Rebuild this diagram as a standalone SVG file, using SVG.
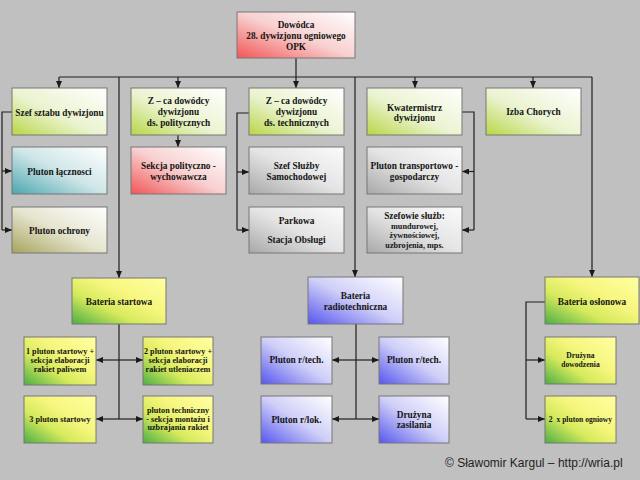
<svg xmlns="http://www.w3.org/2000/svg" width="640" height="480" viewBox="0 0 640 480">
<defs>
<linearGradient id="gGreen" x1="0" y1="1" x2="1" y2="0">
<stop offset="0" stop-color="#b8d646"/><stop offset="0.45" stop-color="#eaf3cf"/><stop offset="1" stop-color="#ffffff"/>
</linearGradient>
<linearGradient id="gRed" x1="0" y1="1" x2="1" y2="0">
<stop offset="0" stop-color="#f25555"/><stop offset="0.5" stop-color="#f8d0d0"/><stop offset="1" stop-color="#ffffff"/>
</linearGradient>
<linearGradient id="gTeal" x1="0" y1="1" x2="1" y2="0">
<stop offset="0" stop-color="#4aa6ae"/><stop offset="0.5" stop-color="#cfe6e8"/><stop offset="1" stop-color="#ffffff"/>
</linearGradient>
<linearGradient id="gOlive" x1="0" y1="1" x2="1" y2="0">
<stop offset="0" stop-color="#a6a45c"/><stop offset="0.5" stop-color="#e6e5d0"/><stop offset="1" stop-color="#ffffff"/>
</linearGradient>
<linearGradient id="gGray" x1="0" y1="1" x2="1" y2="0">
<stop offset="0" stop-color="#a8a8a8"/><stop offset="0.5" stop-color="#e4e4e4"/><stop offset="1" stop-color="#fbfbfb"/>
</linearGradient>
<linearGradient id="gYellow" x1="0" y1="1" x2="1" y2="0">
<stop offset="0" stop-color="#4cae44"/><stop offset="0.35" stop-color="#d6ea5c"/><stop offset="0.6" stop-color="#f6f67e"/><stop offset="1" stop-color="#ffffa2"/>
</linearGradient>
<linearGradient id="gBlue" x1="0" y1="1" x2="1" y2="0">
<stop offset="0" stop-color="#5656ee"/><stop offset="0.5" stop-color="#cfcff8"/><stop offset="1" stop-color="#ffffff"/>
</linearGradient>
<marker id="arr" markerUnits="userSpaceOnUse" markerWidth="8" markerHeight="6" refX="7" refY="3" orient="auto">
<path d="M0,0 L7,3 L0,6 z" fill="#1a1a1a"/>
</marker>
<style>
rect{stroke:#767676;stroke-width:1}
text{font-family:"Liberation Serif","Times New Roman",serif;font-weight:bold;fill:#151515;text-anchor:middle}
.t{font-size:9.3px}
.s{font-size:8.2px}
.x{font-size:7.6px}
#connectors line,#connectors polyline{stroke:#1e1e1e;stroke-width:1.2;fill:none}
.copy{font-family:"Liberation Sans",Arial,sans-serif;font-weight:normal;font-size:12px;fill:#1e1e1e;text-anchor:start}
</style>
</defs>
<rect x="0" y="0" width="640" height="480" fill="#c0c0c0" style="stroke:none"/>

<g id="connectors">
<line x1="296" y1="58" x2="296" y2="77"/>
<line x1="59" y1="77" x2="592" y2="77"/>
<line x1="59" y1="77" x2="59" y2="88" marker-end="url(#arr)"/>
<line x1="178" y1="77" x2="178" y2="88" marker-end="url(#arr)"/>
<line x1="296" y1="77" x2="296" y2="88" marker-end="url(#arr)"/>
<line x1="415" y1="77" x2="415" y2="88" marker-end="url(#arr)"/>
<line x1="533" y1="77" x2="533" y2="88" marker-end="url(#arr)"/>
<line x1="119" y1="77" x2="119" y2="278" marker-end="url(#arr)"/>
<line x1="355" y1="77" x2="355" y2="277" marker-end="url(#arr)"/>
<line x1="592" y1="77" x2="592" y2="277" marker-end="url(#arr)"/>
<polyline points="12,112 2,112 2,230"/>
<line x1="2" y1="171" x2="12" y2="171" marker-end="url(#arr)"/>
<line x1="2" y1="230" x2="12" y2="230" marker-end="url(#arr)"/>
<line x1="178" y1="135" x2="178" y2="147" marker-end="url(#arr)"/>
<polyline points="249,113 237,113 237,230"/>
<line x1="237" y1="172" x2="249" y2="172" marker-end="url(#arr)"/>
<line x1="237" y1="230" x2="249" y2="230" marker-end="url(#arr)"/>
<polyline points="462,112 474,112 474,230"/>
<line x1="474" y1="171.5" x2="462" y2="171.5" marker-end="url(#arr)"/>
<line x1="474" y1="230" x2="462" y2="230" marker-end="url(#arr)"/>
<line x1="119" y1="324" x2="119" y2="419"/>
<line x1="119" y1="360" x2="96" y2="360" marker-end="url(#arr)"/>
<line x1="119" y1="360" x2="143" y2="360" marker-end="url(#arr)"/>
<line x1="119" y1="419" x2="96" y2="419" marker-end="url(#arr)"/>
<line x1="119" y1="419" x2="143" y2="419" marker-end="url(#arr)"/>
<line x1="356" y1="324" x2="356" y2="419"/>
<line x1="356" y1="360" x2="332" y2="360" marker-end="url(#arr)"/>
<line x1="356" y1="360" x2="379" y2="360" marker-end="url(#arr)"/>
<line x1="356" y1="419" x2="332" y2="419" marker-end="url(#arr)"/>
<line x1="356" y1="419" x2="379" y2="419" marker-end="url(#arr)"/>
<polyline points="545,302 526,302 526,419"/>
<line x1="526" y1="360" x2="545" y2="360" marker-end="url(#arr)"/>
<line x1="526" y1="419" x2="545" y2="419" marker-end="url(#arr)"/>
</g>

<g id="dowodca"><rect x="237" y="12" width="118" height="46" fill="url(#gRed)"/>
<text class="t" x="296" y="27.5">Dowódca</text><text class="t" x="296" y="38.5">28. dywizjonu ogniowego</text><text class="t" x="296" y="50">OPK</text></g>

<g id="szef-sztabu"><rect x="12" y="88" width="95" height="47" fill="url(#gGreen)"/>
<text class="t" x="59.5" y="115.5">Szef sztabu dywizjonu</text></g>
<g id="zca-polit"><rect x="131" y="88" width="95" height="47" fill="url(#gGreen)"/>
<text class="t" x="178.5" y="104">Z – ca dowódcy</text><text class="t" x="178.5" y="114.5">dywizjonu</text><text class="t" x="178.5" y="125.5">ds. politycznych</text></g>
<g id="zca-tech"><rect x="249" y="88" width="95" height="47" fill="url(#gGreen)"/>
<text class="t" x="296.5" y="104">Z – ca dowódcy</text><text class="t" x="296.5" y="114.5">dywizjonu</text><text class="t" x="296.5" y="125.5">ds. technicznych</text></g>
<g id="kwatermistrz"><rect x="367" y="88" width="95" height="47" fill="url(#gGreen)"/>
<text class="t" x="414.5" y="110.5">Kwatermistrz</text><text class="t" x="414.5" y="121">dywizjonu</text></g>
<g id="izba-chorych"><rect x="486" y="88" width="95" height="47" fill="url(#gGreen)"/>
<text class="t" x="533.5" y="114.5">Izba Chorych</text></g>

<g id="pluton-lacznosci"><rect x="12" y="147" width="95" height="47" fill="url(#gTeal)"/>
<text class="t" x="59.5" y="175">Pluton łącznosci</text></g>
<g id="sekcja-polit"><rect x="131" y="147" width="95" height="47" fill="url(#gRed)"/>
<text class="t" x="178.5" y="169">Sekcja polityczno -</text><text class="t" x="178.5" y="179.5">wychowawcza</text></g>
<g id="szef-sluzby"><rect x="249" y="147" width="95" height="47" fill="url(#gGray)"/>
<text class="t" x="296.5" y="169">Szef Służby</text><text class="t" x="296.5" y="179.5">Samochodowej</text></g>
<g id="pluton-transport"><rect x="367" y="147" width="95" height="47" fill="url(#gGray)"/>
<text class="t" x="414.5" y="168.5">Pluton transportowo -</text><text class="t" x="414.5" y="179.5">gospodarczy</text></g>

<g id="pluton-ochrony"><rect x="12" y="207" width="95" height="46" fill="url(#gOlive)"/>
<text class="t" x="59.5" y="233.5">Pluton ochrony</text></g>
<g id="parkowa"><rect x="249" y="207" width="95" height="46" fill="url(#gGray)"/>
<text class="t" x="296.5" y="223.5">Parkowa</text><text class="t" x="296.5" y="242.5">Stacja Obsługi</text></g>
<g id="szefowie-sluzb"><rect x="367" y="207" width="95" height="46" fill="url(#gGray)"/>
<text class="t" x="414.5" y="219">Szefowie służb:</text><text class="s" x="414.5" y="229">mundurowej,</text><text class="s" x="414.5" y="238">żywnościowej,</text><text class="s" x="414.5" y="247.5">uzbrojenia, mps.</text></g>

<g id="bateria-startowa"><rect x="72" y="278" width="94" height="46" fill="url(#gYellow)"/>
<text class="t" x="119" y="305">Bateria startowa</text></g>
<g id="bateria-radio"><rect x="308" y="277" width="95" height="47" fill="url(#gBlue)"/>
<text class="t" x="355.5" y="298.5">Bateria</text><text class="t" x="355.5" y="309.5">radiotechniczna</text></g>
<g id="bateria-oslonowa"><rect x="545" y="277" width="94" height="47" fill="url(#gYellow)"/>
<text class="t" x="592" y="305">Bateria osłonowa</text></g>

<g id="pluton1"><rect x="24" y="337" width="72" height="48" fill="url(#gYellow)"/>
<text class="s" x="60" y="353.5">1 pluton startowy +</text><text class="s" x="60" y="362.8">sekcja elaboracji</text><text class="s" x="60" y="371.5">rakiet paliwem</text></g>
<g id="pluton2"><rect x="143" y="337" width="70" height="48" fill="url(#gYellow)"/>
<text class="s" x="178" y="353.5">2 pluton startowy +</text><text class="s" x="178" y="362.8">sekcja elaboracji</text><text class="s" x="178" y="371.5">rakiet utleniaczem</text></g>
<g id="pluton3"><rect x="24" y="396" width="72" height="47" fill="url(#gYellow)"/>
<text class="s" x="60" y="422">3 pluton startowy</text></g>
<g id="pluton-techniczny"><rect x="143" y="396" width="70" height="47" fill="url(#gYellow)"/>
<text class="s" x="178" y="412.8">pluton techniczny</text><text class="s" x="178" y="421.8">- sekcja montażu i</text><text class="s" x="178" y="430">uzbrajania rakiet</text></g>

<g id="pluton-rtech1"><rect x="261" y="337" width="71" height="47" fill="url(#gBlue)"/>
<text class="t" x="296.5" y="363.3">Pluton r/tech.</text></g>
<g id="pluton-rtech2"><rect x="379" y="337" width="70" height="47" fill="url(#gBlue)"/>
<text class="t" x="414" y="363.3">Pluton r/tech.</text></g>
<g id="pluton-rlok"><rect x="261" y="396" width="71" height="47" fill="url(#gBlue)"/>
<text class="t" x="296.5" y="423.3">Pluton r/lok.</text></g>
<g id="druzyna-zasilania"><rect x="379" y="396" width="70" height="47" fill="url(#gBlue)"/>
<text class="t" x="414" y="417.6">Drużyna</text><text class="t" x="414" y="427.6">zasilania</text></g>

<g id="druzyna-dowodzenia"><rect x="545" y="337" width="71" height="47" fill="url(#gYellow)"/>
<text class="x" x="580.5" y="358">Drużyna</text><text class="x" x="580.5" y="367">dowodzenia</text></g>
<g id="pluton-ogniowy"><rect x="545" y="396" width="71" height="47" fill="url(#gYellow)"/>
<text class="x" x="580.5" y="422" xml:space="preserve">2  x pluton ogniowy</text></g>

<text class="copy" x="445" y="467">© Sławomir Kargul – http://wria.pl</text>
</svg>
